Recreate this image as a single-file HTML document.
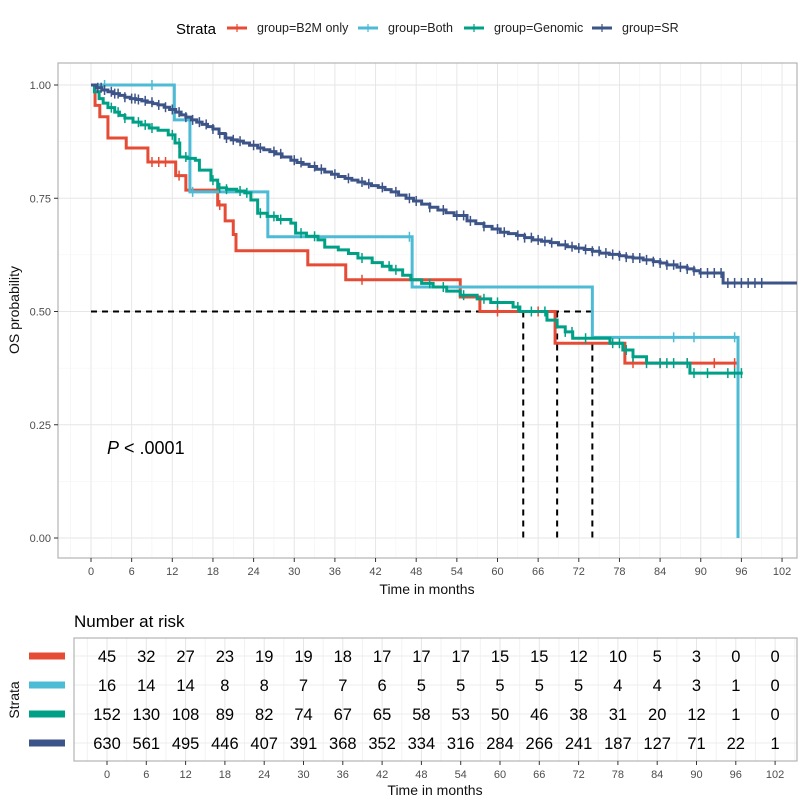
<!DOCTYPE html>
<html><head><meta charset="utf-8"><style>
body{margin:0;background:#fff;font-family:"Liberation Sans",Arial,sans-serif;}
svg text{font-family:"Liberation Sans",Arial,sans-serif;}
</style></head><body>
<svg id="c" width="806" height="806" xmlns="http://www.w3.org/2000/svg"></svg>
<script>
const groups=["group=B2M only","group=Both","group=Genomic","group=SR"];
const colors=["#E64B35","#4DBBD5","#00A087","#3C5488"];
const b2mT=[0,0.6,1.3,2.5,5.2,8.4,12.5,14,18.7,19.8,21,21.4,32,37.6,54.5,57.4,68.5,78.8,95.5];
const b2mS=[1,0.955,0.93,0.883,0.861,0.83,0.80,0.768,0.735,0.70,0.67,0.634,0.603,0.57,0.532,0.50,0.43,0.386,0.386];
const bothT=[0,12.3,14.6,26.1,47.4,74,95.5,95.5];
const bothS=[1,0.923,0.764,0.665,0.554,0.443,0.443,0];
const genT=[0,0.5,1.2,1.8,2.5,3.5,4.2,5,6.2,7.4,8.6,9.9,11.4,12.4,13.1,14.2,15.4,16,17.7,18.7,20,21.5,22.7,23.6,24.6,26,27.5,29.5,30.2,31.8,33.5,34.5,36.5,38,39.4,41.5,43,44.3,46,47.2,48.8,50.5,52.5,54.5,57,59,62.3,63.3,67.3,68.8,70,71.1,76.6,78.5,80,82,88.4,96.2];
const genS=[1,0.985,0.97,0.96,0.95,0.94,0.933,0.927,0.918,0.912,0.905,0.90,0.89,0.872,0.841,0.838,0.834,0.812,0.79,0.773,0.77,0.766,0.762,0.746,0.717,0.71,0.703,0.695,0.673,0.666,0.658,0.642,0.636,0.628,0.618,0.608,0.6,0.592,0.58,0.57,0.562,0.554,0.545,0.536,0.528,0.52,0.51,0.50,0.481,0.466,0.455,0.441,0.43,0.415,0.40,0.386,0.364,0.364];
const srT=[0,0.8,1.6,2.5,3.3,4.2,5,5.8,6.6,7.5,8.3,9.1,9.9,10.8,11.6,12.5,13.3,14,14.8,15.6,16.4,17.2,18,18.9,19.8,20.7,21.6,22.5,23.4,24.6,25.5,26.4,27.3,28.2,29.5,30.4,31.3,32.2,33.3,34.5,35.5,36.5,37.5,38.5,39.4,40.4,41.4,42.4,43.4,44.3,45.4,46.5,47.6,48.8,50,51.2,52.4,53.6,55.5,56.8,58,59.2,60.4,61.6,62.8,64,65.2,66.5,67.8,69,70.3,71.5,72.8,74,75.1,76.5,78,79,80,81.5,83,84,85,86.5,88,89,89.9,93.3,104.2];
const srS=[1,0.994,0.989,0.985,0.981,0.977,0.973,0.97,0.968,0.965,0.962,0.959,0.956,0.951,0.946,0.94,0.934,0.929,0.923,0.918,0.913,0.908,0.903,0.893,0.883,0.879,0.876,0.872,0.867,0.861,0.857,0.853,0.848,0.841,0.834,0.829,0.825,0.82,0.814,0.808,0.803,0.798,0.794,0.79,0.786,0.782,0.778,0.774,0.769,0.764,0.757,0.75,0.744,0.737,0.73,0.724,0.718,0.712,0.70,0.694,0.688,0.682,0.675,0.672,0.668,0.663,0.658,0.655,0.652,0.647,0.643,0.64,0.637,0.633,0.629,0.626,0.623,0.62,0.618,0.614,0.61,0.607,0.603,0.598,0.594,0.59,0.585,0.563,0.563];
const censB2M=[9,10,11,13,19,40,60,66,80,84,88,92,95];
const censBoth=[2,9,15,47,86,89,95];
const censGen=[3,4,5,7,8,9,12,13,14,18,19,20,22,23,25,27,28,31,33,40,44,45,50,52,55,58,60,63,65,67,70,71,73,77,78,79,80,82,84,85,86,88,89,91,94,95,96];
const censSR=[1,1.5,2,3,3.5,4,5,6,6.5,7,8,9,10,11,12,13,14,15,16,17,18,19,20,21,22,24,25,27,28,30,31,33,34,36,38,40,41,43,45,47,48,50,52,54,55,56,58,60,61,63,64,65,66,67,68,70,71,72,73,74,75,76,77,78,79,80,81,82,83,84,85,86,87,88,89,90,91,92,93,94,95,96,97,98,99];
const medians=[63.8,68.8,74];
const xTicks=[0,6,12,18,24,30,36,42,48,54,60,66,72,78,84,90,96,102];
const yTicks=[0,0.25,0.5,0.75,1];
const yLabels=["0.00","0.25","0.50","0.75","1.00"];
const risk=[[45,32,27,23,19,19,18,17,17,17,15,15,12,10,5,3,0,0],
[16,14,14,8,8,7,7,6,5,5,5,5,5,4,4,3,1,0],
[152,130,108,89,82,74,67,65,58,53,50,46,38,31,20,12,1,0],
[630,561,495,446,407,391,368,352,334,316,284,266,241,187,127,71,22,1]];

const svg=document.getElementById('c');const NS="http://www.w3.org/2000/svg";
function el(t,a,p){const e=document.createElementNS(NS,t);for(const k in a)e.setAttribute(k,a[k]);(p||svg).appendChild(e);return e;}
const X=t=>91+t*6.775, Y=s=>538-s*453;
const PL=58,PR=797,PT=63,PB=558;
const g=el('g',{});


for(let t=-3;t<=105;t+=3){const x=X(t);if(x>PL&&x<PR)el('line',{x1:x,x2:x,y1:PT,y2:PB,stroke:t%6==0?'#e6e6e6':'#f2f2f2','stroke-width':t%6==0?1:0.6},g);}
for(let s=-0.125;s<=1.2;s+=0.125){const y=Y(s);if(y>PT&&y<PB)el('line',{x1:PL,x2:PR,y1:y,y2:y,stroke:(Math.round(s*8)%2==0)?'#e6e6e6':'#f2f2f2','stroke-width':(Math.round(s*8)%2==0)?1:0.6},g);}
const frame=el('rect',{x:PL,y:PT,width:PR-PL,height:PB-PT,fill:'none',stroke:'#b3b3b3','stroke-width':1.2});


xTicks.forEach(t=>{el('line',{x1:X(t),x2:X(t),y1:PB,y2:PB+4,stroke:'#333'});const tx=el('text',{x:X(t),y:PB+17,'font-size':11,fill:'#4d4d4d','text-anchor':'middle'});tx.textContent=t;

});
yTicks.forEach((s,i)=>{el('line',{x1:PL-4,x2:PL,y1:Y(s),y2:Y(s),stroke:'#333'});const tx=el('text',{x:PL-7,y:Y(s)+4,'font-size':11,fill:'#4d4d4d','text-anchor':'end'});tx.textContent=yLabels[i];

});
let t1=el('text',{x:427,y:594,'font-size':14,'text-anchor':'middle',fill:'#111'});t1.textContent='Time in months';


let t2=el('text',{x:0,y:0,'font-size':14,'text-anchor':'middle',fill:'#111',transform:'translate(19,310) rotate(-90)'});t2.textContent='OS probability';


const med=el('g',{stroke:'#000','stroke-width':2,'stroke-dasharray':'6,5',fill:'none'});


el('line',{x1:X(0),x2:X(Math.max(...medians)),y1:Y(0.5),y2:Y(0.5)},med);
medians.forEach(m=>el('line',{x1:X(m),x2:X(m),y1:Y(0.5),y2:Y(0)},med));
const series=[[b2mT,b2mS,censB2M],[bothT,bothS,censBoth],[genT,genS,censGen],[srT,srS,censSR]];
const names=['curve-b2m-only','curve-both','curve-genomic','curve-sr'];
function sAt(T,S,t){let v=S[0];for(let i=0;i<T.length;i++){if(T[i]<=t)v=S[i];}return v;}
series.forEach(([T,S,C],k)=>{let d=`M${X(T[0])},${Y(S[0])}`;for(let i=1;i<T.length;i++){d+=`H${X(T[i])}V${Y(S[i])}`;}
const p=el('path',{d:d,fill:'none',stroke:colors[k],'stroke-width':3});


const cg=el('g',{stroke:colors[k],'stroke-width':1.5});


C.forEach(t=>{const s=sAt(T,S,t);if(s<=0)return;const x=X(t),y=Y(s);el('line',{x1:x,x2:x,y1:y-5,y2:y+5},cg);});});
let pv=el('text',{x:107,y:454,'font-size':18,fill:'#000'});pv.innerHTML='<tspan font-style="italic">P</tspan> &lt; .0001';


let lt=el('text',{x:176,y:34,'font-size':15,fill:'#000'});lt.textContent='Strata';


const lx=[227,358,464,592];
groups.forEach((gname,k)=>{const lg=el('g',{});


el('line',{x1:lx[k],x2:lx[k]+20,y1:28,y2:28,stroke:colors[k],'stroke-width':3},lg);
el('line',{x1:lx[k]+10,x2:lx[k]+10,y1:24,y2:32,stroke:colors[k],'stroke-width':1.2},lg);
const tx=el('text',{x:lx[k]+30,y:32,'font-size':12.5,fill:'#222'},lg);tx.textContent=gname;});
let rt=el('text',{x:74,y:627,'font-size':17,fill:'#000'});rt.textContent='Number at risk';


const RX=t=>107+t*6.55, RL=74,RR=797,RT=638,RB=761;const rowY=[656,685,714,743];
const rg=el('g',{});


for(let t=-3;t<=105;t+=3){const x=RX(t);if(x>RL&&x<RR)el('line',{x1:x,x2:x,y1:RT,y2:RB,stroke:t%6==0?'#e6e6e6':'#f2f2f2'},rg);}
rowY.forEach(y=>el('line',{x1:RL,x2:RR,y1:y,y2:y,stroke:'#ececec'},rg));
el('rect',{x:RL,y:RT,width:RR-RL,height:RB-RT,fill:'none',stroke:'#b3b3b3','stroke-width':1.2});
risk.forEach((row,k)=>{const bar=el('rect',{x:29,y:rowY[k]-3.5,width:36,height:7,fill:colors[k]});


row.forEach((v,i)=>{const tx=el('text',{x:RX(xTicks[i]),y:rowY[k]+6,'font-size':16.5,'text-anchor':'middle',fill:'#000'});tx.textContent=v;

});});
xTicks.forEach(t=>{el('line',{x1:RX(t),x2:RX(t),y1:RB,y2:RB+4,stroke:'#333'});const tx=el('text',{x:RX(t),y:778,'font-size':11,fill:'#4d4d4d','text-anchor':'middle'});tx.textContent=t;

});
let t3=el('text',{x:435,y:795,'font-size':14,'text-anchor':'middle',fill:'#111'});t3.textContent='Time in months';


let t4=el('text',{x:0,y:0,'font-size':14,'text-anchor':'middle',fill:'#111',transform:'translate(19,700) rotate(-90)'});t4.textContent='Strata';


</script>
</body></html>
